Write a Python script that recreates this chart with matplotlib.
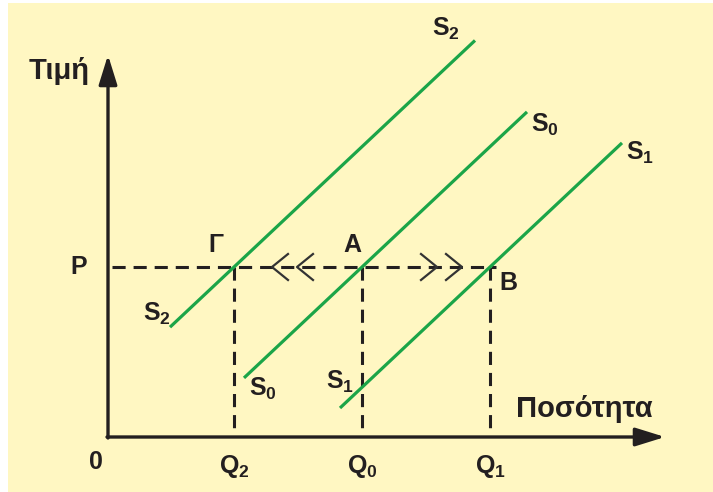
import numpy as np
import matplotlib
matplotlib.use("Agg")
import matplotlib.pyplot as plt
from matplotlib.patches import Rectangle

plt.rcParams['font.family'] = ['Liberation Sans', 'DejaVu Sans']
plt.rcParams['font.weight'] = 'bold'
plt.rcParams['mathtext.fontset'] = 'custom'
plt.rcParams['mathtext.rm'] = 'Liberation Sans:bold'
plt.rcParams['mathtext.bf'] = 'Liberation Sans:bold'

# equilibrium price and the three quantities supplied at that price
P = 17.0
Q2, Q0, Q1 = 12.6, 25.4, 38.2
slope = 0.94

# supply curves: (name, quantity at P, quantity range drawn)
supply_names = ["2", "0", "1"]
supply_q = [Q2, Q0, Q1]
supply_from = [6.2, 13.6, 23.2]
supply_to = [36.7, 41.9, 51.4]

# chevrons on the price line (tip quantity, direction)
chev_tips = [16.4, 18.9, 32.9, 35.4]
chev_dir = [-1, -1, 1, 1]

green = "#1BA548"
ink = "#231F20"
bg = "#FFF7C2"

fig = plt.figure(figsize=(7.13, 4.92), dpi=100)
fig.patches.append(Rectangle((8 / 713, 0), 1, 489 / 492, transform=fig.transFigure,
                             facecolor=bg, edgecolor="none", zorder=-1))
ax = fig.add_axes([0, 0, 1, 1])
ax.set_xlim(-10.8, 60.5)
ax.set_ylim(-5.5, 43.7)
ax.axis("off")

# axes with arrowheads
arrow = dict(arrowstyle="-|>,head_length=0.9,head_width=0.28", lw=2.4,
             color=ink, shrinkA=0, shrinkB=0, mutation_scale=20)
ax.annotate("", xy=(0, 38.2), xytext=(0, -0.1), arrowprops=arrow)
ax.annotate("", xy=(55.7, 0), xytext=(-0.1, 0), arrowprops=arrow)

# dashed guides
dash = (0, (4.3, 2.6))
ax.plot([0.4, Q1 + 0.6], [P, P], color=ink, lw=2.2, linestyle=dash, zorder=2)
for q in supply_q:
    ax.plot([q, q], [P, 0], color=ink, lw=2.2, linestyle=dash, zorder=2)

# chevrons showing the shift of quantity supplied
for tip, d in zip(chev_tips, chev_dir):
    ax.plot([tip - d * 1.6, tip, tip - d * 1.6], [P + 1.3, P, P - 1.3],
            color="#333333", lw=1.6, zorder=2)

# supply curves
for q, q_a, q_b in zip(supply_q, supply_from, supply_to):
    qq = np.array([q_a, q_b])
    ax.plot(qq, P + slope * (qq - q), color=green, lw=2.3, solid_capstyle="butt", zorder=3)

lab = dict(color=ink, fontsize=18, fontweight="bold", ha="center", va="center")
word = dict(lab, fontsize=21)

# labels at both ends of each supply curve
top_pos = [(33.8, 40.8), (43.7, 31.2), (53.2, 28.4)]
bot_pos = [(4.9, 12.3), (15.5, 4.8), (23.2, 5.5)]
for n, (tx, ty), (bx, by) in zip(supply_names, top_pos, bot_pos):
    s = r"$\mathbf{S}_{\mathbf{%s}}$" % n
    ax.text(tx, ty, s, **lab)
    ax.text(bx, by, s, **lab)

ax.text(-4.9, 36.6, "Τιμή", **word)
ax.text(47.6, 2.8, "Ποσότητα", **word)
ax.text(-1.2, -2.5, "0", **lab)
ax.text(-2.9, P, "P", **lab)
ax.text(Q2 - 1.8, P + 2.2, "Γ", **lab)
ax.text(Q0 - 1.0, P + 2.2, "A", **lab)
ax.text(Q1 + 1.8, P - 1.6, "B", **lab)
for n, q in zip(supply_names, supply_q):
    ax.text(q, -3.0, r"$\mathbf{Q}_{\mathbf{%s}}$" % n, **lab)

fig.savefig("out.png", dpi=100, facecolor="white")
